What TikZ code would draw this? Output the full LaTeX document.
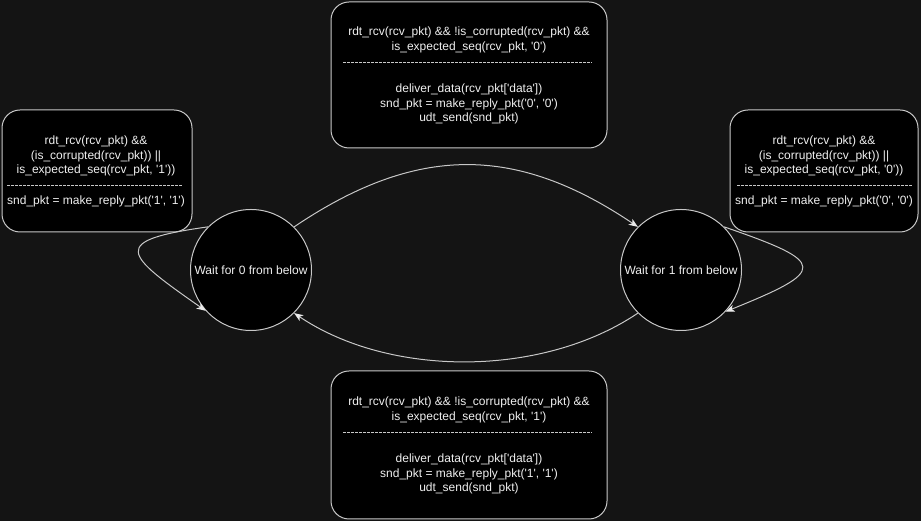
\documentclass[tikz,border=0pt]{standalone}
\usepackage{fontspec}
\setmainfont{Liberation Sans}
\usetikzlibrary{arrows.meta}
\definecolor{canvasDark}{RGB}{20,20,20}
\definecolor{strokeGrey}{RGB}{200,200,200}
\definecolor{tipWhite}{RGB}{235,235,235}
\definecolor{textWhite}{RGB}{240,240,240}
\newcommand{\quoted}[1]{\textquotesingle#1\textquotesingle}

\begin{document}
\begin{tikzpicture}[x=1pt, y=1pt,
    box/.style={draw=strokeGrey, fill=black, rounded corners=18pt, line width=1pt, inner sep=0pt},
    state/.style={circle, draw=strokeGrey, fill=black, line width=1pt, minimum size=121pt, inner sep=0pt,
      text=textWhite, font=\fontsize{12}{14.4}\selectfont},
    txt/.style={text=textWhite, align=center, inner sep=0pt, font=\fontsize{12}{14.4}\selectfont},
    sep/.style={draw=strokeGrey, dash pattern=on 3pt off 1pt, line width=0.8pt},
    trans/.style={draw=strokeGrey, line width=1pt, -{Stealth[length=9pt, width=7pt, inset=2.5pt, color=tipWhite]}}]
        \fill[canvasDark] (0,0) rectangle (921,521);

        % states
        \node[state] (wait0) at (251,251) {Wait for 0 from below};
        \node[state] (wait1) at (681,251) {Wait for 1 from below};

        % transition boxes
        \node[box, minimum width=276pt, minimum height=146pt] (topBox) at (469,446) {};
        \node[txt] (topGuard) at (469,481) {rdt\_rcv(rcv\_pkt) \&\& !is\_corrupted(rcv\_pkt) \&\&\\is\_expected\_seq(rcv\_pkt, \quoted{0})};
        \draw[sep] (343,459) -- (592,459);
        \node[txt] (topAction) at (469,417) {deliver\_data(rcv\_pkt[\quoted{data}])\\snd\_pkt = make\_reply\_pkt(\quoted{0}, \quoted{0})\\udt\_send(snd\_pkt)};

        \node[box, minimum width=276pt, minimum height=148pt] (bottomBox) at (469,76) {};
        \node[txt] (bottomGuard) at (469,111) {rdt\_rcv(rcv\_pkt) \&\& !is\_corrupted(rcv\_pkt) \&\&\\is\_expected\_seq(rcv\_pkt, \quoted{1})};
        \draw[sep] (343,89) -- (592,89);
        \node[txt] (bottomAction) at (469,47) {deliver\_data(rcv\_pkt[\quoted{data}])\\snd\_pkt = make\_reply\_pkt(\quoted{1}, \quoted{1})\\udt\_send(snd\_pkt)};

        \node[box, minimum width=190pt, minimum height=122pt] (leftBox) at (97,350) {};
        \node[txt] (leftGuard) at (96,365) {rdt\_rcv(rcv\_pkt) \&\&\\(is\_corrupted(rcv\_pkt)) ||\\is\_expected\_seq(rcv\_pkt, \quoted{1}))};
        \draw[sep] (7,336) -- (183,336);
        \node[txt] (leftAction) at (96,320) {snd\_pkt = make\_reply\_pkt(\quoted{1}, \quoted{1})};

        \node[box, minimum width=188pt, minimum height=122pt] (rightBox) at (824,350) {};
        \node[txt] (rightGuard) at (824,365) {rdt\_rcv(rcv\_pkt) \&\&\\(is\_corrupted(rcv\_pkt)) ||\\is\_expected\_seq(rcv\_pkt, \quoted{0}))};
        \draw[sep] (737,336) -- (912,336);
        \node[txt] (rightAction) at (824,320) {snd\_pkt = make\_reply\_pkt(\quoted{0}, \quoted{0})};

        % transitions
        \draw[trans] (wait0.45) to[out=34, in=146, looseness=1.1] (wait1.135);
        \draw[trans] (wait1.225) to[out=-146, in=-34, looseness=0.86] (wait0.-45);
        \draw[trans] (wait0.135) .. controls +(188:100) and +(145:100) .. (wait0.222);
        \draw[trans] (wait1.45) .. controls +(-19:110) and +(22:110) .. (wait1.-43);
      \end{tikzpicture}
\end{document}
